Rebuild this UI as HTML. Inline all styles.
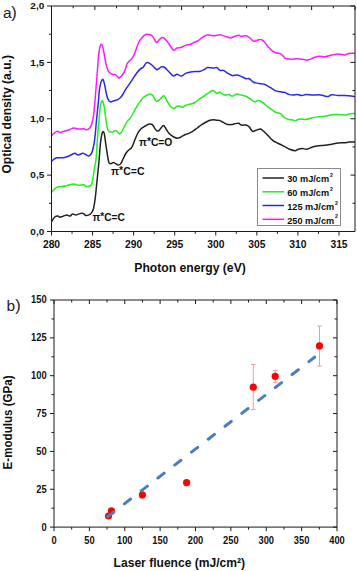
<!DOCTYPE html><html><head><meta charset="utf-8"><style>html,body{margin:0;padding:0;background:#fff;}svg{display:block;}</style></head><body>
<svg width="357" height="571" viewBox="0 0 357 571">
<rect width="357" height="571" fill="#fff"/>
<defs><clipPath id="ca"><rect x="51.5" y="6.0" width="303.5" height="225.5"/></clipPath></defs>
<g clip-path="url(#ca)" fill="none" stroke-width="1.5" stroke-linejoin="round" stroke-linecap="round">
<path d="M51.80 135.40 C52.62 134.73 55.33 131.88 56.70 131.40 C58.07 130.92 58.88 132.50 60.00 132.50 C61.12 132.50 62.07 131.77 63.40 131.40 C64.73 131.03 66.32 130.87 68.00 130.30 C69.68 129.73 71.83 128.20 73.50 128.00 C75.17 127.80 76.32 128.98 78.00 129.10 C79.68 129.22 82.22 128.60 83.60 128.70 C84.98 128.80 85.47 129.63 86.30 129.70 C87.13 129.77 87.85 129.67 88.60 129.10 C89.35 128.53 90.15 127.62 90.80 126.30 C91.45 124.98 92.02 123.18 92.50 121.20 C92.98 119.22 93.37 116.87 93.70 114.40 C94.03 111.93 94.25 109.07 94.50 106.40 C94.75 103.73 94.92 101.82 95.20 98.40 C95.48 94.98 95.82 90.72 96.20 85.90 C96.58 81.08 97.08 74.75 97.50 69.50 C97.92 64.25 98.28 58.18 98.70 54.40 C99.12 50.62 99.58 48.48 100.00 46.80 C100.42 45.12 100.78 44.40 101.20 44.30 C101.62 44.20 102.07 44.93 102.50 46.20 C102.93 47.47 103.38 49.80 103.80 51.90 C104.22 54.00 104.58 56.60 105.00 58.80 C105.42 61.00 105.77 63.10 106.30 65.10 C106.83 67.10 107.47 69.40 108.20 70.80 C108.93 72.20 109.87 72.87 110.70 73.50 C111.53 74.13 112.47 74.42 113.20 74.60 C113.93 74.78 114.47 74.35 115.10 74.60 C115.73 74.85 116.37 75.52 117.00 76.10 C117.63 76.68 118.40 77.90 118.90 78.10 C119.40 78.30 119.40 77.85 120.00 77.30 C120.60 76.75 121.67 75.95 122.50 74.80 C123.33 73.65 124.27 72.18 125.00 70.40 C125.73 68.62 126.27 65.57 126.90 64.10 C127.53 62.63 127.95 62.55 128.80 61.60 C129.65 60.65 131.15 59.45 132.00 58.40 C132.85 57.35 133.27 56.67 133.90 55.30 C134.53 53.93 135.18 51.88 135.80 50.20 C136.42 48.52 136.98 46.77 137.60 45.20 C138.22 43.63 138.75 42.07 139.50 40.80 C140.25 39.53 141.25 38.55 142.10 37.60 C142.95 36.65 143.77 35.67 144.60 35.10 C145.43 34.53 146.15 34.25 147.10 34.20 C148.05 34.15 149.32 34.33 150.30 34.80 C151.28 35.27 152.17 36.00 153.00 37.00 C153.83 38.00 154.67 39.87 155.30 40.80 C155.93 41.73 156.28 42.60 156.80 42.60 C157.32 42.60 157.70 41.53 158.40 40.80 C159.10 40.07 160.15 38.73 161.00 38.20 C161.85 37.67 162.50 37.08 163.50 37.60 C164.50 38.12 165.87 39.93 167.00 41.30 C168.13 42.67 169.18 44.30 170.30 45.80 C171.42 47.30 172.58 49.93 173.70 50.30 C174.82 50.67 175.70 48.50 177.00 48.00 C178.30 47.50 180.00 47.78 181.50 47.30 C183.00 46.82 184.50 45.62 186.00 45.10 C187.50 44.58 189.00 44.72 190.50 44.20 C192.00 43.68 193.70 42.60 195.00 42.00 C196.30 41.40 197.18 41.28 198.30 40.60 C199.42 39.92 200.38 38.80 201.70 37.90 C203.02 37.00 204.82 35.65 206.20 35.20 C207.58 34.75 208.62 35.12 210.00 35.20 C211.38 35.28 212.83 35.77 214.50 35.70 C216.17 35.63 218.32 34.73 220.00 34.80 C221.68 34.87 222.90 35.58 224.60 36.10 C226.30 36.62 228.53 37.85 230.20 37.90 C231.87 37.95 233.18 36.85 234.60 36.40 C236.02 35.95 237.57 35.20 238.70 35.20 C239.83 35.20 240.20 36.32 241.40 36.40 C242.60 36.48 244.60 35.52 245.90 35.70 C247.20 35.88 247.90 36.57 249.20 37.50 C250.50 38.43 252.40 40.85 253.70 41.30 C255.00 41.75 255.70 40.47 257.00 40.20 C258.30 39.93 260.18 39.33 261.50 39.70 C262.82 40.07 263.77 41.20 264.90 42.40 C266.03 43.60 267.00 45.40 268.30 46.90 C269.60 48.40 271.22 50.35 272.70 51.40 C274.18 52.45 275.88 52.83 277.20 53.20 C278.52 53.57 279.47 52.97 280.60 53.60 C281.73 54.23 283.20 56.20 284.00 57.00 C284.80 57.80 284.27 58.02 285.40 58.40 C286.53 58.78 288.82 59.23 290.80 59.30 C292.78 59.37 295.33 58.80 297.30 58.80 C299.27 58.80 300.82 59.08 302.60 59.30 C304.38 59.52 306.37 60.28 308.00 60.10 C309.63 59.92 310.60 58.85 312.40 58.20 C314.20 57.55 316.65 56.45 318.80 56.20 C320.95 55.95 323.13 56.90 325.30 56.70 C327.47 56.50 329.65 55.43 331.80 55.00 C333.95 54.57 336.05 54.10 338.20 54.10 C340.35 54.10 342.90 55.12 344.70 55.00 C346.50 54.88 347.38 53.67 349.00 53.40 C350.62 53.13 353.50 53.40 354.40 53.40" stroke="#ff18ff"/>
<path d="M51.80 161.00 C52.62 160.47 54.77 158.33 56.70 157.80 C58.63 157.27 61.35 158.10 63.40 157.80 C65.45 157.50 67.13 156.75 69.00 156.00 C70.87 155.25 73.10 153.47 74.60 153.30 C76.10 153.13 76.68 155.00 78.00 155.00 C79.32 155.00 81.50 153.53 82.50 153.30 C83.50 153.07 83.37 153.35 84.00 153.60 C84.63 153.85 85.53 154.42 86.30 154.80 C87.07 155.18 87.85 156.00 88.60 155.90 C89.35 155.80 90.15 155.05 90.80 154.20 C91.45 153.35 91.93 152.70 92.50 150.80 C93.07 148.90 93.72 145.83 94.20 142.80 C94.68 139.77 95.02 136.40 95.40 132.60 C95.78 128.80 96.12 123.98 96.50 120.00 C96.88 116.02 97.37 111.92 97.70 108.70 C98.03 105.48 98.23 103.67 98.50 100.70 C98.77 97.73 98.95 93.78 99.30 90.90 C99.65 88.02 100.07 85.33 100.60 83.40 C101.13 81.47 101.97 79.62 102.50 79.30 C103.03 78.98 103.38 80.30 103.80 81.50 C104.22 82.70 104.58 84.50 105.00 86.50 C105.42 88.50 105.77 91.32 106.30 93.50 C106.83 95.68 107.47 98.18 108.20 99.60 C108.93 101.02 109.87 101.77 110.70 102.00 C111.53 102.23 112.47 101.25 113.20 101.00 C113.93 100.75 114.25 100.78 115.10 100.50 C115.95 100.22 117.35 99.85 118.30 99.30 C119.25 98.75 120.10 97.92 120.80 97.20 C121.50 96.48 121.80 96.12 122.50 95.00 C123.20 93.88 123.95 92.18 125.00 90.50 C126.05 88.82 127.53 86.78 128.80 84.90 C130.07 83.02 131.33 81.10 132.60 79.20 C133.87 77.30 135.13 75.18 136.40 73.50 C137.67 71.82 139.05 70.15 140.20 69.10 C141.35 68.05 142.47 68.03 143.30 67.20 C144.13 66.37 144.57 64.87 145.20 64.10 C145.83 63.33 146.37 62.72 147.10 62.60 C147.83 62.48 148.77 62.95 149.60 63.40 C150.43 63.85 151.25 64.55 152.10 65.30 C152.95 66.05 153.92 67.17 154.70 67.90 C155.48 68.63 156.07 69.60 156.80 69.70 C157.53 69.80 158.30 68.98 159.10 68.50 C159.90 68.02 160.78 67.05 161.60 66.80 C162.42 66.55 163.10 66.52 164.00 67.00 C164.90 67.48 165.95 68.65 167.00 69.70 C168.05 70.75 169.18 72.25 170.30 73.30 C171.42 74.35 172.58 75.85 173.70 76.00 C174.82 76.15 175.70 74.20 177.00 74.20 C178.30 74.20 180.00 76.18 181.50 76.00 C183.00 75.82 184.50 73.77 186.00 73.10 C187.50 72.43 189.00 72.27 190.50 72.00 C192.00 71.73 193.50 71.58 195.00 71.50 C196.50 71.42 198.00 71.80 199.50 71.50 C201.00 71.20 202.70 70.37 204.00 69.70 C205.30 69.03 206.30 67.82 207.30 67.50 C208.30 67.18 208.80 67.72 210.00 67.80 C211.20 67.88 213.38 68.05 214.50 68.00 C215.62 67.95 215.78 67.10 216.70 67.50 C217.62 67.90 218.88 69.92 220.00 70.40 C221.12 70.88 222.08 69.92 223.40 70.40 C224.72 70.88 226.40 72.43 227.90 73.30 C229.40 74.17 230.90 75.33 232.40 75.60 C233.90 75.87 235.40 74.75 236.90 74.90 C238.40 75.05 239.90 75.87 241.40 76.50 C242.90 77.13 244.60 78.33 245.90 78.70 C247.20 79.07 247.90 78.10 249.20 78.70 C250.50 79.30 252.02 81.52 253.70 82.30 C255.38 83.08 257.43 83.03 259.30 83.40 C261.17 83.77 263.03 83.78 264.90 84.50 C266.77 85.22 268.82 86.68 270.50 87.70 C272.18 88.72 273.50 89.93 275.00 90.60 C276.50 91.27 277.95 91.42 279.50 91.70 C281.05 91.98 282.78 91.85 284.30 92.30 C285.82 92.75 287.17 93.93 288.60 94.40 C290.03 94.87 291.45 95.10 292.90 95.10 C294.35 95.10 295.85 94.33 297.30 94.40 C298.75 94.47 300.17 95.47 301.60 95.50 C303.03 95.53 304.10 94.67 305.90 94.60 C307.70 94.53 310.25 95.07 312.40 95.10 C314.55 95.13 317.02 94.73 318.80 94.80 C320.58 94.87 321.65 95.20 323.10 95.50 C324.55 95.80 326.05 96.72 327.50 96.60 C328.95 96.48 330.02 94.98 331.80 94.80 C333.58 94.62 336.05 95.38 338.20 95.50 C340.35 95.62 342.53 95.43 344.70 95.50 C346.87 95.57 349.58 95.72 351.20 95.90 C352.82 96.08 353.87 96.48 354.40 96.60" stroke="#2a2ae6"/>
<path d="M51.80 191.90 C52.62 191.15 54.77 188.33 56.70 187.40 C58.63 186.47 61.52 186.67 63.40 186.30 C65.28 185.93 66.32 185.58 68.00 185.20 C69.68 184.82 71.67 184.00 73.50 184.00 C75.33 184.00 77.32 185.08 79.00 185.20 C80.68 185.32 82.43 184.53 83.60 184.70 C84.77 184.87 84.93 185.98 86.00 186.20 C87.07 186.42 89.05 186.38 90.00 186.00 C90.95 185.62 91.23 185.00 91.70 183.90 C92.17 182.80 92.42 181.48 92.80 179.40 C93.18 177.32 93.62 173.87 94.00 171.40 C94.38 168.93 94.77 166.50 95.10 164.60 C95.43 162.70 95.67 163.43 96.00 160.00 C96.33 156.57 96.73 149.15 97.10 144.00 C97.47 138.85 97.82 133.85 98.20 129.10 C98.58 124.35 99.02 119.48 99.40 115.50 C99.78 111.52 100.13 107.57 100.50 105.20 C100.87 102.83 101.22 101.95 101.60 101.30 C101.98 100.65 102.42 100.65 102.80 101.30 C103.18 101.95 103.52 103.22 103.90 105.20 C104.28 107.18 104.72 110.53 105.10 113.20 C105.48 115.87 105.83 118.73 106.20 121.20 C106.57 123.67 106.83 126.30 107.30 128.00 C107.77 129.70 108.43 130.73 109.00 131.40 C109.57 132.07 110.00 131.93 110.70 132.00 C111.40 132.07 112.47 132.05 113.20 131.80 C113.93 131.55 114.47 130.57 115.10 130.50 C115.73 130.43 116.27 130.83 117.00 131.40 C117.73 131.97 118.67 133.90 119.50 133.90 C120.33 133.90 121.50 131.98 122.00 131.40 C122.50 130.82 122.00 131.42 122.50 130.40 C123.00 129.38 124.15 126.88 125.00 125.30 C125.85 123.72 126.75 122.05 127.60 120.90 C128.45 119.75 129.27 119.55 130.10 118.40 C130.93 117.25 131.77 115.47 132.60 114.00 C133.43 112.53 134.27 111.07 135.10 109.60 C135.93 108.13 136.75 106.57 137.60 105.20 C138.45 103.83 139.35 102.57 140.20 101.40 C141.05 100.23 141.87 99.05 142.70 98.20 C143.53 97.35 144.25 96.92 145.20 96.30 C146.15 95.68 147.35 94.80 148.40 94.50 C149.45 94.20 150.67 94.20 151.50 94.50 C152.33 94.80 152.77 95.37 153.40 96.30 C154.03 97.23 154.73 99.25 155.30 100.10 C155.87 100.95 156.17 101.40 156.80 101.40 C157.43 101.40 158.30 100.73 159.10 100.10 C159.90 99.47 160.87 98.33 161.60 97.60 C162.33 96.87 162.93 95.80 163.50 95.70 C164.07 95.60 164.42 96.17 165.00 97.00 C165.58 97.83 166.12 99.15 167.00 100.70 C167.88 102.25 169.18 105.00 170.30 106.30 C171.42 107.60 172.58 108.50 173.70 108.50 C174.82 108.50 175.88 106.67 177.00 106.30 C178.12 105.93 179.45 106.12 180.40 106.30 C181.35 106.48 181.77 107.58 182.70 107.40 C183.63 107.22 184.70 105.77 186.00 105.20 C187.30 104.63 189.00 104.45 190.50 104.00 C192.00 103.55 193.50 103.35 195.00 102.50 C196.50 101.65 198.00 99.95 199.50 98.90 C201.00 97.85 202.25 97.38 204.00 96.20 C205.75 95.02 208.43 92.73 210.00 91.80 C211.57 90.87 212.28 90.32 213.40 90.60 C214.52 90.88 215.60 93.23 216.70 93.50 C217.80 93.77 218.68 91.93 220.00 92.20 C221.32 92.47 223.10 94.73 224.60 95.10 C226.10 95.47 227.70 94.22 229.00 94.40 C230.30 94.58 231.08 96.27 232.40 96.20 C233.72 96.13 235.40 94.18 236.90 94.00 C238.40 93.82 239.90 94.73 241.40 95.10 C242.90 95.47 244.42 95.57 245.90 96.20 C247.38 96.83 248.82 97.97 250.30 98.90 C251.78 99.83 253.48 101.52 254.80 101.80 C256.12 102.08 256.88 100.48 258.20 100.60 C259.52 100.72 261.22 101.55 262.70 102.50 C264.18 103.45 265.62 105.12 267.10 106.30 C268.58 107.48 270.10 108.57 271.60 109.60 C273.10 110.63 274.60 111.82 276.10 112.50 C277.60 113.18 279.23 112.87 280.60 113.70 C281.97 114.53 282.97 116.53 284.30 117.50 C285.63 118.47 287.17 119.10 288.60 119.50 C290.03 119.90 291.82 119.67 292.90 119.90 C293.98 120.13 294.02 121.05 295.10 120.90 C296.18 120.75 297.60 119.25 299.40 119.00 C301.20 118.75 303.73 119.62 305.90 119.40 C308.07 119.18 310.25 118.13 312.40 117.70 C314.55 117.27 316.65 117.05 318.80 116.80 C320.95 116.55 323.13 116.55 325.30 116.20 C327.47 115.85 329.65 114.98 331.80 114.70 C333.95 114.42 336.05 114.43 338.20 114.50 C340.35 114.57 342.90 115.18 344.70 115.10 C346.50 115.02 347.38 114.28 349.00 114.00 C350.62 113.72 353.50 113.50 354.40 113.40" stroke="#22ee22"/>
<path d="M51.80 221.30 C52.25 220.62 53.50 218.07 54.50 217.20 C55.50 216.33 56.88 216.10 57.80 216.10 C58.72 216.10 59.07 217.20 60.00 217.20 C60.93 217.20 62.27 216.47 63.40 216.10 C64.53 215.73 65.67 215.00 66.80 215.00 C67.93 215.00 69.27 216.28 70.20 216.10 C71.13 215.92 71.47 214.08 72.40 213.90 C73.33 213.72 74.70 215.00 75.80 215.00 C76.90 215.00 77.88 214.20 79.00 213.90 C80.12 213.60 81.33 212.93 82.50 213.20 C83.67 213.47 84.85 215.27 86.00 215.50 C87.15 215.73 88.45 215.08 89.40 214.60 C90.35 214.12 91.03 213.53 91.70 212.60 C92.37 211.67 92.93 210.55 93.40 209.00 C93.87 207.45 94.12 205.78 94.50 203.30 C94.88 200.82 95.32 197.52 95.70 194.10 C96.08 190.68 96.42 186.58 96.80 182.80 C97.18 179.02 97.62 175.20 98.00 171.40 C98.38 167.60 98.68 164.77 99.10 160.00 C99.52 155.23 100.02 147.18 100.50 142.80 C100.98 138.42 101.57 135.60 102.00 133.70 C102.43 131.80 102.72 131.40 103.10 131.40 C103.48 131.40 103.88 131.80 104.30 133.70 C104.72 135.60 105.10 139.38 105.60 142.80 C106.10 146.22 106.77 150.95 107.30 154.20 C107.83 157.45 108.23 160.70 108.80 162.30 C109.37 163.90 109.97 163.77 110.70 163.80 C111.43 163.83 112.47 162.58 113.20 162.50 C113.93 162.42 114.25 162.87 115.10 163.30 C115.95 163.73 117.35 165.05 118.30 165.10 C119.25 165.15 119.97 164.70 120.80 163.60 C121.63 162.50 122.47 160.18 123.30 158.50 C124.13 156.82 124.98 154.83 125.80 153.50 C126.62 152.17 127.28 151.42 128.20 150.50 C129.12 149.58 130.47 149.05 131.30 148.00 C132.13 146.95 132.57 145.67 133.20 144.20 C133.83 142.73 134.37 140.98 135.10 139.20 C135.83 137.42 136.75 135.08 137.60 133.50 C138.45 131.92 139.35 130.68 140.20 129.70 C141.05 128.72 141.87 128.22 142.70 127.60 C143.53 126.98 144.25 126.55 145.20 126.00 C146.15 125.45 147.35 124.58 148.40 124.30 C149.45 124.02 150.67 124.02 151.50 124.30 C152.33 124.58 152.77 125.20 153.40 126.00 C154.03 126.80 154.67 128.27 155.30 129.10 C155.93 129.93 156.57 130.78 157.20 131.00 C157.83 131.22 158.47 130.92 159.10 130.40 C159.73 129.88 160.27 128.70 161.00 127.90 C161.73 127.10 162.68 125.47 163.50 125.60 C164.32 125.73 164.95 127.37 165.90 128.70 C166.85 130.03 167.90 132.22 169.20 133.60 C170.50 134.98 172.20 136.25 173.70 137.00 C175.20 137.75 176.70 138.28 178.20 138.10 C179.70 137.92 181.58 136.47 182.70 135.90 C183.82 135.33 183.97 135.08 184.90 134.70 C185.83 134.32 187.00 134.15 188.30 133.60 C189.60 133.05 191.22 132.33 192.70 131.40 C194.18 130.47 195.70 129.13 197.20 128.00 C198.70 126.87 200.20 125.60 201.70 124.60 C203.20 123.60 204.82 122.73 206.20 122.00 C207.58 121.27 208.80 120.58 210.00 120.20 C211.20 119.82 212.28 119.70 213.40 119.70 C214.52 119.70 215.60 120.05 216.70 120.20 C217.80 120.35 218.88 120.23 220.00 120.60 C221.12 120.97 222.27 121.80 223.40 122.40 C224.53 123.00 225.48 123.83 226.80 124.20 C228.12 124.57 230.00 124.67 231.30 124.60 C232.60 124.53 233.37 124.02 234.60 123.80 C235.83 123.58 237.57 123.08 238.70 123.30 C239.83 123.52 240.20 124.80 241.40 125.10 C242.60 125.40 244.60 124.80 245.90 125.10 C247.20 125.40 248.08 125.85 249.20 126.90 C250.32 127.95 251.47 130.83 252.60 131.40 C253.73 131.97 254.70 130.68 256.00 130.30 C257.30 129.92 259.10 128.92 260.40 129.10 C261.70 129.28 262.48 130.27 263.80 131.40 C265.12 132.53 266.82 134.42 268.30 135.90 C269.78 137.38 271.22 139.12 272.70 140.30 C274.18 141.48 275.98 142.35 277.20 143.00 C278.42 143.65 278.82 143.63 280.00 144.20 C281.18 144.77 282.68 145.57 284.30 146.40 C285.92 147.23 287.90 148.48 289.70 149.20 C291.50 149.92 293.67 150.70 295.10 150.70 C296.53 150.70 297.05 149.57 298.30 149.20 C299.55 148.83 301.15 148.50 302.60 148.50 C304.05 148.50 305.37 149.45 307.00 149.20 C308.63 148.95 310.43 147.58 312.40 147.00 C314.37 146.42 316.65 145.98 318.80 145.70 C320.95 145.42 323.13 145.55 325.30 145.30 C327.47 145.05 329.65 144.57 331.80 144.20 C333.95 143.83 336.05 143.35 338.20 143.10 C340.35 142.85 342.90 142.87 344.70 142.70 C346.50 142.53 347.38 142.20 349.00 142.10 C350.62 142.00 353.50 142.10 354.40 142.10" stroke="#222"/>
</g>
<g stroke="#1a1a1a" stroke-width="1" fill="none">
<path d="M51.5 6.0H355.0V231.5H51.5Z"/>
<path d="M51.50 231.5v4.0M72.03 231.5v2.3M92.57 231.5v4.0M113.11 231.5v2.3M133.64 231.5v4.0M154.18 231.5v2.3M174.71 231.5v4.0M195.25 231.5v2.3M215.78 231.5v4.0M236.31 231.5v2.3M256.85 231.5v4.0M277.38 231.5v2.3M297.92 231.5v4.0M318.46 231.5v2.3M338.99 231.5v4.0M51.50 6.0v4.0M73.18 6.0v2.3M94.86 6.0v4.0M116.54 6.0v2.3M138.21 6.0v4.0M159.89 6.0v2.3M181.57 6.0v4.0M203.25 6.0v2.3M224.93 6.0v4.0M246.61 6.0v2.3M268.29 6.0v4.0M289.96 6.0v2.3M311.64 6.0v4.0M333.32 6.0v2.3M355.00 6.0v4.0M51.5 231.50h-4.5M355.0 231.50h-4.5M51.5 203.31h-2.5M355.0 203.31h-2.5M51.5 175.12h-4.5M355.0 175.12h-4.5M51.5 146.94h-2.5M355.0 146.94h-2.5M51.5 118.75h-4.5M355.0 118.75h-4.5M51.5 90.56h-2.5M355.0 90.56h-2.5M51.5 62.38h-4.5M355.0 62.38h-4.5M51.5 34.19h-2.5M355.0 34.19h-2.5M51.5 6.00h-4.5M355.0 6.00h-4.5"/>
</g>
<g font-family="Liberation Sans, sans-serif" font-weight="bold" font-size="10" fill="#111" text-anchor="middle">
<text transform="translate(51.50 247.5) scale(1.03 1)">280</text>
<text transform="translate(92.57 247.5) scale(1.03 1)">285</text>
<text transform="translate(133.64 247.5) scale(1.03 1)">290</text>
<text transform="translate(174.71 247.5) scale(1.03 1)">295</text>
<text transform="translate(215.78 247.5) scale(1.03 1)">300</text>
<text transform="translate(256.85 247.5) scale(1.03 1)">305</text>
<text transform="translate(297.92 247.5) scale(1.03 1)">310</text>
<text transform="translate(338.99 247.5) scale(1.03 1)">315</text>
</g>
<g font-family="Liberation Sans, sans-serif" font-weight="bold" font-size="10" fill="#111" text-anchor="end">
<text font-size="9.4" transform="translate(44.2 234.80) scale(1.06 1)">0,0</text>
<text font-size="9.4" transform="translate(44.2 178.43) scale(1.06 1)">0,5</text>
<text font-size="9.4" transform="translate(44.2 122.05) scale(1.06 1)">1,0</text>
<text font-size="9.4" transform="translate(44.2 65.67) scale(1.06 1)">1,5</text>
<text font-size="9.4" transform="translate(44.2 9.30) scale(1.06 1)">2,0</text>
</g>
<text font-family="Liberation Sans, sans-serif" font-weight="bold" font-size="12" fill="#111" x="134.3" y="272.3" textLength="111.5" lengthAdjust="spacingAndGlyphs">Photon energy (eV)</text>
<text font-family="Liberation Sans, sans-serif" font-weight="bold" font-size="12" fill="#111" transform="translate(11.3 173.6) rotate(-90)" textLength="118.5" lengthAdjust="spacingAndGlyphs">Optical density (a.u.)</text>
<text font-family="Liberation Sans, sans-serif" font-size="15.5" fill="#222" x="2.9" y="18.3">a</text><text font-family="Liberation Sans, sans-serif" font-size="16.5" fill="#222" x="11.2" y="18.4">)</text>
<g font-family="Liberation Sans, sans-serif" font-weight="bold" font-size="10.3" fill="#111">
<text x="92.4" y="220.5" textLength="32.4" lengthAdjust="spacingAndGlyphs">π<tspan dy="-1">*</tspan><tspan dy="1">C=C</tspan></text>
<text x="111.1" y="175.0" textLength="33.4" lengthAdjust="spacingAndGlyphs">π<tspan dy="-1">*</tspan><tspan dy="1">C=C</tspan></text>
<text x="139.0" y="145.8" textLength="33.4" lengthAdjust="spacingAndGlyphs">π<tspan dy="-1">*</tspan><tspan dy="1">C=O</tspan></text>
</g>
<rect x="257.5" y="168.5" width="83" height="57" fill="#fff" stroke="#8a8a8a" stroke-width="1"/>
<line x1="262.5" x2="284" y1="178.0" y2="178.0" stroke="#222" stroke-width="1.5"/>
<text font-family="Liberation Sans, sans-serif" font-weight="bold" font-size="9.2" fill="#111" x="287.2" y="182.3">30 mJ/cm<tspan font-size="5.2" dx="0.9" dy="-5.3">2</tspan></text>
<line x1="262.5" x2="284" y1="191.8" y2="191.8" stroke="#22ee22" stroke-width="1.5"/>
<text font-family="Liberation Sans, sans-serif" font-weight="bold" font-size="9.2" fill="#111" x="287.2" y="196.1">60 mJ/cm<tspan font-size="5.2" dx="0.9" dy="-5.3">2</tspan></text>
<line x1="262.5" x2="284" y1="205.5" y2="205.5" stroke="#2a2ae6" stroke-width="1.5"/>
<text font-family="Liberation Sans, sans-serif" font-weight="bold" font-size="9.2" fill="#111" x="287.2" y="209.8">125 mJ/cm<tspan font-size="5.2" dx="0.9" dy="-5.3">2</tspan></text>
<line x1="262.5" x2="284" y1="219.3" y2="219.3" stroke="#ff18ff" stroke-width="1.5"/>
<text font-family="Liberation Sans, sans-serif" font-weight="bold" font-size="9.2" fill="#111" x="287.2" y="223.6">250 mJ/cm<tspan font-size="5.2" dx="0.9" dy="-5.3">2</tspan></text>
<g stroke="#1a1a1a" stroke-width="1" fill="none">
<path d="M54.0 300.0H337.0V527.1H54.0Z"/>
<path d="M54.00 527.1v4.0M54.00 300.0v4.0M71.69 527.1v2.5M71.69 300.0v2.5M89.38 527.1v4.0M89.38 300.0v4.0M107.06 527.1v2.5M107.06 300.0v2.5M124.75 527.1v4.0M124.75 300.0v4.0M142.44 527.1v2.5M142.44 300.0v2.5M160.12 527.1v4.0M160.12 300.0v4.0M177.81 527.1v2.5M177.81 300.0v2.5M195.50 527.1v4.0M195.50 300.0v4.0M213.19 527.1v2.5M213.19 300.0v2.5M230.88 527.1v4.0M230.88 300.0v4.0M248.56 527.1v2.5M248.56 300.0v2.5M266.25 527.1v4.0M266.25 300.0v4.0M283.94 527.1v2.5M283.94 300.0v2.5M301.62 527.1v4.0M301.62 300.0v4.0M319.31 527.1v2.5M319.31 300.0v2.5M337.00 527.1v4.0M337.00 300.0v4.0M54.0 527.10h-4.0M337.0 527.10h-4.0M54.0 508.18h-2.5M337.0 508.18h-2.5M54.0 489.25h-4.0M337.0 489.25h-4.0M54.0 470.33h-2.5M337.0 470.33h-2.5M54.0 451.40h-4.0M337.0 451.40h-4.0M54.0 432.48h-2.5M337.0 432.48h-2.5M54.0 413.55h-4.0M337.0 413.55h-4.0M54.0 394.62h-2.5M337.0 394.62h-2.5M54.0 375.70h-4.0M337.0 375.70h-4.0M54.0 356.78h-2.5M337.0 356.78h-2.5M54.0 337.85h-4.0M337.0 337.85h-4.0M54.0 318.93h-2.5M337.0 318.93h-2.5M54.0 300.00h-4.0M337.0 300.00h-4.0"/>
</g>
<g font-family="Liberation Sans, sans-serif" font-weight="bold" font-size="10.6" fill="#111" text-anchor="middle">
<text transform="translate(54.00 543.6) scale(0.88 1)">0</text>
<text transform="translate(89.38 543.6) scale(0.88 1)">50</text>
<text transform="translate(124.75 543.6) scale(0.88 1)">100</text>
<text transform="translate(160.12 543.6) scale(0.88 1)">150</text>
<text transform="translate(195.50 543.6) scale(0.88 1)">200</text>
<text transform="translate(230.88 543.6) scale(0.88 1)">250</text>
<text transform="translate(266.25 543.6) scale(0.88 1)">300</text>
<text transform="translate(301.62 543.6) scale(0.88 1)">350</text>
<text transform="translate(337.00 543.6) scale(0.88 1)">400</text>
</g>
<g font-family="Liberation Sans, sans-serif" font-weight="bold" font-size="10.6" fill="#111" text-anchor="end">
<text transform="translate(46.6 530.50) scale(0.88 1)">0</text>
<text transform="translate(46.6 492.65) scale(0.88 1)">25</text>
<text transform="translate(46.6 454.80) scale(0.88 1)">50</text>
<text transform="translate(46.6 416.95) scale(0.88 1)">75</text>
<text transform="translate(46.6 379.10) scale(0.88 1)">100</text>
<text transform="translate(46.6 341.25) scale(0.88 1)">125</text>
<text transform="translate(46.6 303.40) scale(0.88 1)">150</text>
</g>
<text font-family="Liberation Sans, sans-serif" font-weight="bold" font-size="12" fill="#111" x="113.6" y="566.8" textLength="131.5" lengthAdjust="spacingAndGlyphs">Laser fluence (mJ/cm²)</text>
<text font-family="Liberation Sans, sans-serif" font-weight="bold" font-size="12" fill="#111" transform="translate(12.1 469.4) rotate(-90)" textLength="94.0" lengthAdjust="spacingAndGlyphs">E-modulus (GPa)</text>
<text font-family="Liberation Sans, sans-serif" font-size="15.5" fill="#222" x="6.4" y="310.6">b</text><text font-family="Liberation Sans, sans-serif" font-size="16.5" fill="#222" x="15.2" y="310.8">)</text>
<g stroke="#f49a9a" stroke-width="1" fill="none">
<path d="M253.3 364.5V409.6M251.0 364.5h4.6M251.0 409.6h4.6"/>
<path d="M275.2 370.4V382.3M272.9 370.4h4.6M272.9 382.3h4.6"/>
<path d="M319.5 326.1V366.1M317.2 326.1h4.6M317.2 366.1h4.6"/>
</g>
<g fill="#ff0000">
<circle cx="108.5" cy="516.0" r="3.6"/>
<circle cx="111.4" cy="510.9" r="3.6"/>
<circle cx="142.4" cy="494.9" r="3.6"/>
<circle cx="186.6" cy="482.7" r="3.6"/>
<circle cx="253.3" cy="387.2" r="3.6"/>
<circle cx="275.2" cy="376.3" r="3.6"/>
<circle cx="319.5" cy="345.9" r="3.6"/>
</g>
<line x1="107.6" y1="516.8" x2="314.6" y2="357.2" stroke="#4a7ebf" stroke-width="3" stroke-linecap="round" stroke-dasharray="7.9 13.28"/>
</svg></body></html>
